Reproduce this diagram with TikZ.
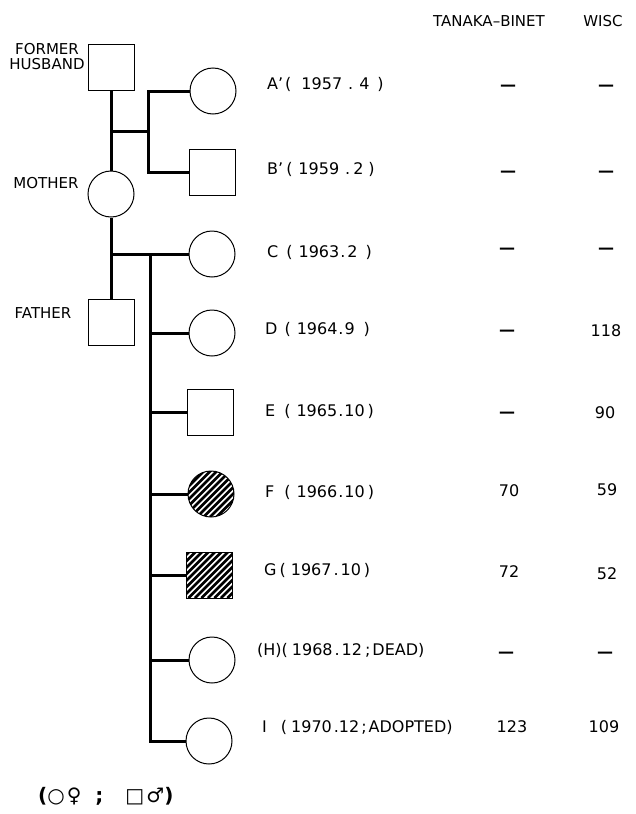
\documentclass[tikz,border=0pt]{standalone}
\usepackage{fontspec}
\setmainfont{DejaVu Sans}
\begin{document}
\begin{tikzpicture}[x=1pt,y=-1pt,
    female/.style={circle,draw,line width=1pt,minimum size=46pt,inner sep=0pt},
    male/.style={rectangle,draw,line width=1pt,minimum size=46pt,inner sep=0pt},
    hatch/.style={path picture={
        \foreach \k in {-56,-49.5,...,56}
          \draw[line width=2.6pt] ([xshift=\k pt]path picture bounding box.south west) -- ++(60,-60);}},
    link/.style={line width=3pt},
    who/.style={font=\fontsize{15}{15}\selectfont,inner sep=0pt,align=center},
    kid/.style={font=\fontsize{16}{16}\selectfont,inner sep=0pt,anchor=west,text height=11.7pt,text depth=0pt},
    score/.style={font=\fontsize{16}{16}\selectfont,inner sep=0pt,text height=11.7pt,text depth=0pt}]
  \useasboundingbox (0,0) rectangle (635,814);

  % parents
  \node[male] (fh) at (111,67) {};
  \node[female] (mo) at (111,194) {};
  \node[male] (fa) at (111,322) {};
  \node[who] (fhl) at (47,57) {FORMER\\HUSBAND};
  \node[who] (mol) at (46,183) {MOTHER};
  \node[who] (fal) at (43,313) {FATHER};

  % children
  \node[female] (a) at (213,91) {};
  \node[male] (b) at (212,172) {};
  \node[female] (c) at (212,254) {};
  \node[female] (d) at (212,333) {};
  \node[male] (e) at (210,412) {};
  \node[female,hatch] (f) at (211,494) {};
  \node[male,hatch] (g) at (209,575) {};
  \node[female] (h) at (212,660) {};
  \node[female] (i) at (209,741) {};

  % lines
  \coordinate (m1) at (111,131);
  \coordinate (j1) at (148,131);
  \coordinate (m2) at (111,254);
  \coordinate (s) at (150,254);
  \draw[link] (fh) -- (mo);
  \draw[link] (mo) -- (fa);
  \draw[link] (m1) -- (j1);
  \draw[link] (a.west) -| (j1) |- (b.west);
  \draw[link] (m2) -- (c.west);
  \draw[link] (s) |- (i.west);
  \foreach \k in {d,e,f,g,h}
    \draw[link] (s |- \k) -- (\k.west);

  % birth labels
  \node[kid] (la) at (267,84) {A’\hspace{2pt}(\hspace{10pt}1957\hspace{6pt}.\hspace{6pt}4\hspace{8pt})};
  \node[kid] (lb) at (267,169) {B’\hspace{3pt}(\hspace{6pt}1959\hspace{6pt}.\hspace{3pt}2\hspace{5pt})};
  \node[kid] (lc) at (267,252) {C\hspace{8pt}(\hspace{6pt}1963\hspace{1pt}.\hspace{2pt}2\hspace{8pt})};
  \node[kid] (ld) at (265,329) {D\hspace{7pt}(\hspace{6pt}1964\hspace{1pt}.\hspace{1pt}9\hspace{9pt})};
  \node[kid] (le) at (265,411) {E\hspace{9pt}(\hspace{6pt}1965\hspace{1pt}.\hspace{1pt}10\hspace{3pt})};
  \node[kid] (lf) at (265,492) {F\hspace{10pt}(\hspace{6pt}1966\hspace{1pt}.\hspace{1pt}10\hspace{3pt})};
  \node[kid] (lg) at (264,570) {G\hspace{3pt}(\hspace{5pt}1967\hspace{2pt}.\hspace{2pt}10\hspace{3pt})};
  \node[kid] (lh) at (257,650) {(H)(\hspace{4pt}1968\hspace{2pt}.\hspace{2pt}12\hspace{3pt};\hspace{2pt}DEAD)};
  \node[kid] (li) at (262,727) {I\hspace{14pt}(\hspace{4pt}1970\hspace{2pt}.12\hspace{2pt};\hspace{2pt}ADOPTED)};

  % test scores
  \node[who] (htb) at (489,21) {TANAKA–BINET};
  \node[who] (hw) at (603,21) {WISC};
  \node[score] (ta) at (508,85) {\bfseries —};
  \node[score] (wa) at (606,85) {\bfseries —};
  \node[score] (tb) at (508,171) {\bfseries —};
  \node[score] (wb) at (606,171) {\bfseries —};
  \node[score] (tc) at (507,248) {\bfseries —};
  \node[score] (wc) at (606,248) {\bfseries —};
  \node[score] (td) at (507,330) {\bfseries —};
  \node[score] (wd) at (606,331) {118};
  \node[score] (te) at (507,412) {\bfseries —};
  \node[score] (we) at (605,413) {90};
  \node[score] (tf) at (509,491) {70};
  \node[score] (wf) at (607,490) {59};
  \node[score] (tg) at (509,572) {72};
  \node[score] (wg) at (607,574) {52};
  \node[score] (th) at (506,652) {\bfseries —};
  \node[score] (wh) at (605,652) {\bfseries —};
  \node[score] (ti) at (512,727) {123};
  \node[score] (wi) at (604,727) {109};

  % key
  \node[font=\fontsize{20}{20}\selectfont,inner sep=0pt,anchor=west] (key) at (38,796)
    {\textbf{(}○\hspace{2pt}♀\hspace{14pt}\textbf{;}\hspace{22pt}□\hspace{2pt}♂\textbf{)}};
\end{tikzpicture}
\end{document}
